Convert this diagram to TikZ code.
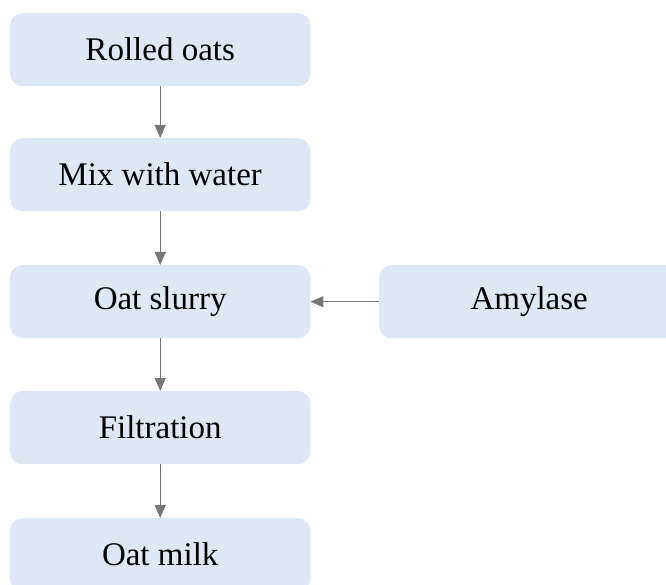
\documentclass[tikz,border=0pt]{standalone}
\usepackage{fontspec}
\setmainfont{Liberation Serif}
\usetikzlibrary{arrows.meta}
\definecolor{boxfill}{HTML}{DEE8F4}
\definecolor{arrowgrey}{HTML}{777777}
\begin{document}
\begin{tikzpicture}[x=1pt,y=1pt,
  stepbox/.style={rectangle, rounded corners=12pt, fill=boxfill, draw=none,
    minimum width=300pt, minimum height=73pt, inner sep=0pt,
    font=\fontsize{33pt}{40pt}\selectfont, anchor=north west},
  flow/.style={draw=arrowgrey, line width=1.2pt, -{Triangle[length=13pt,width=11pt]}}]
\clip (0,0) rectangle (666,-585);
\node[stepbox] (b1) at (10,-13) {Rolled oats};
\node[stepbox] (b2) at (10,-138) {Mix with water};
\node[stepbox] (b3) at (10,-265) {Oat slurry};
\node[stepbox] (b4) at (10,-391) {Filtration};
\node[stepbox] (b5) at (10,-518) {Oat milk};
\node[stepbox] (am) at (379,-265) {Amylase};
\draw[flow] (b1) -- (b2);
\draw[flow] (b2) -- (b3);
\draw[flow] (b3) -- (b4);
\draw[flow] (b4) -- (b5);
\draw[flow] (am) -- (b3);
\end{tikzpicture}
\end{document}
